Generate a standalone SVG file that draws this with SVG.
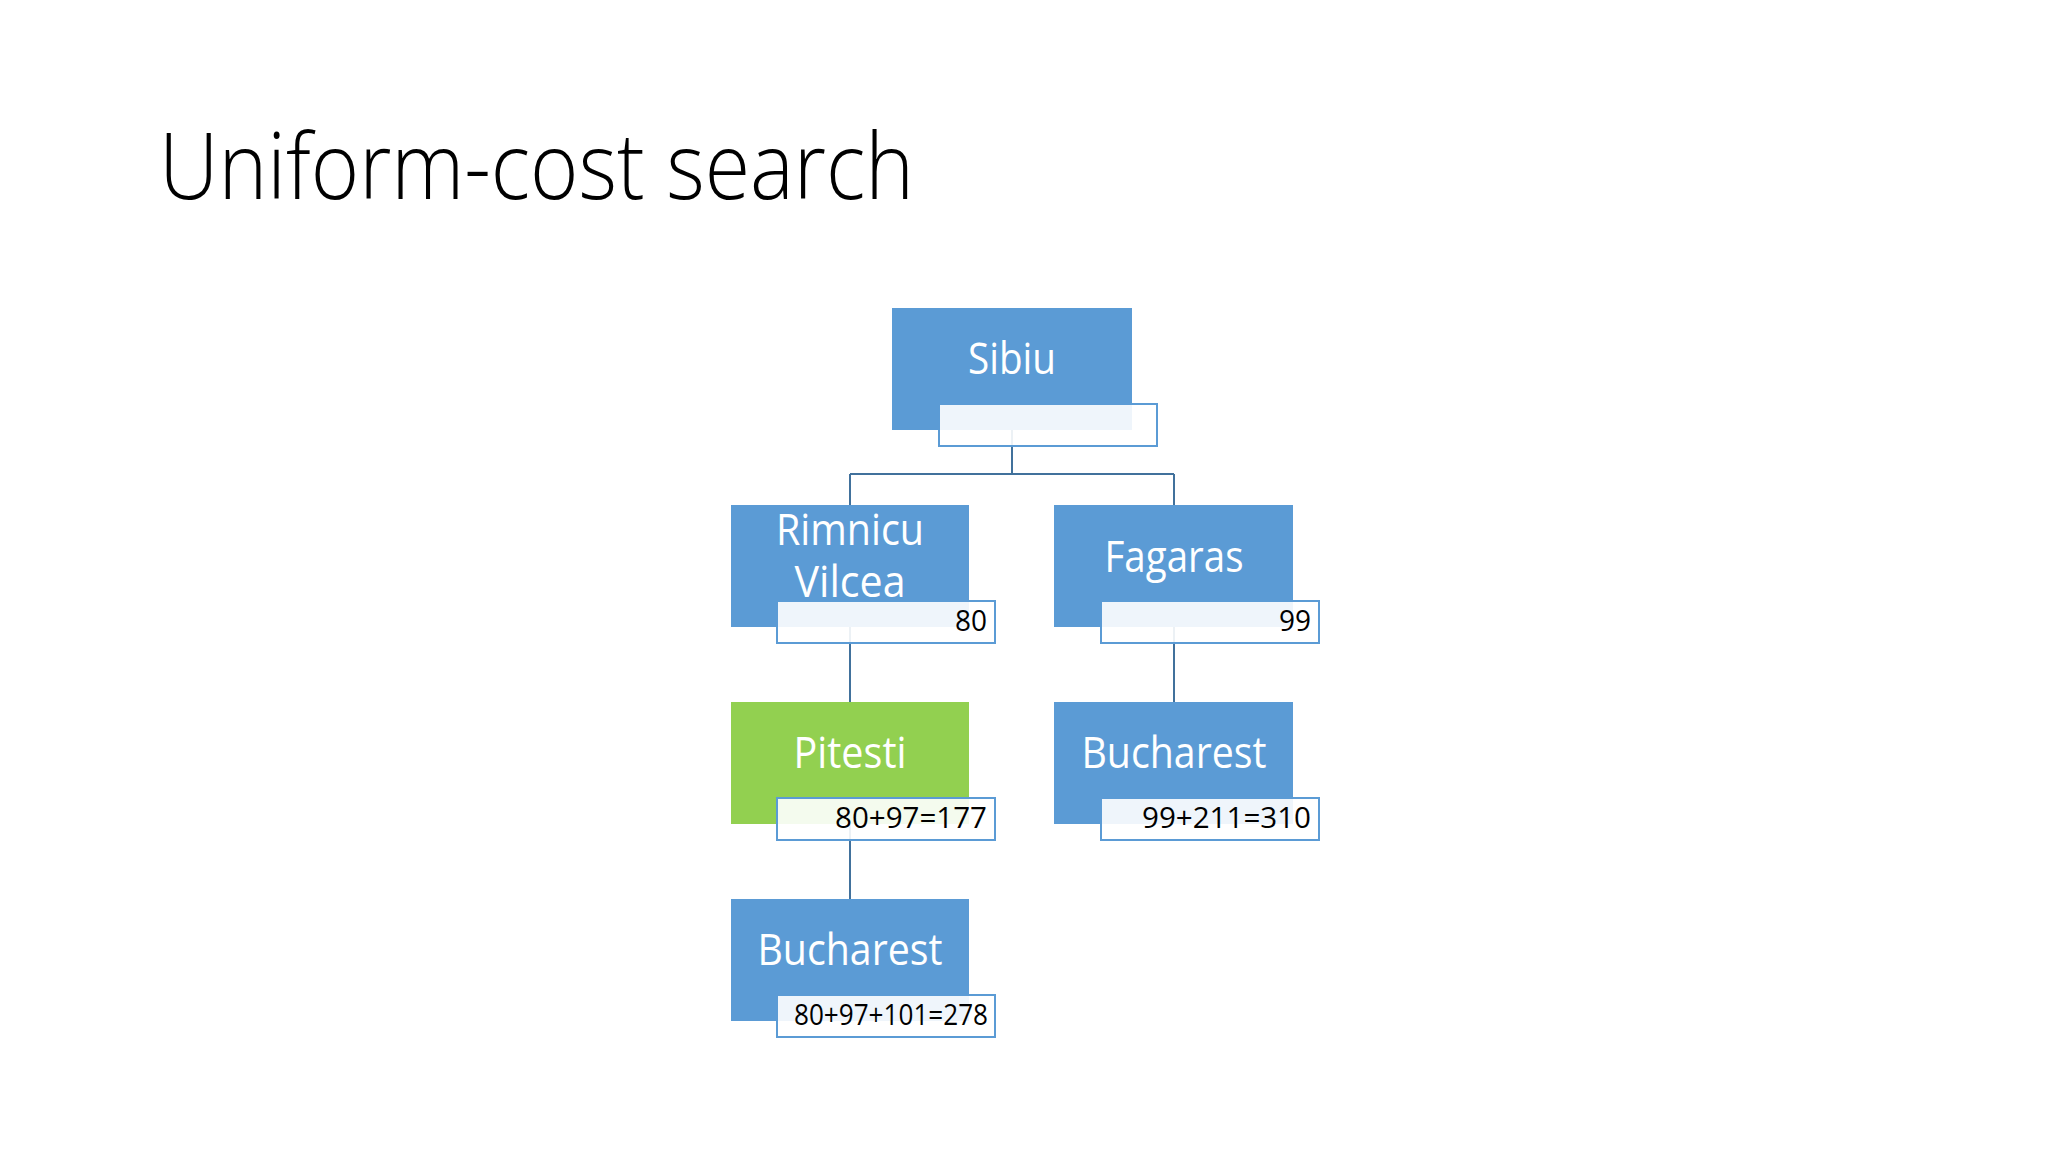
<svg xmlns="http://www.w3.org/2000/svg" width="2048" height="1152" viewBox="0 0 2048 1152">
<style>
.bg{fill:#ffffff}
.box{fill:#5b9bd5}
.goal{fill:#92d050}
.sub{fill:#ffffff;fill-opacity:0.9;stroke:#5b9bd5;stroke-width:2}
.lbl{font-family:"Open Sans","Noto Sans",sans-serif;font-size:44px;fill:#ffffff;text-anchor:middle}
.num{font-family:"Open Sans","Noto Sans",sans-serif;font-size:30px;fill:#000000;text-anchor:end}
.title{font-family:"Open Sans","Noto Sans",sans-serif;font-weight:300;font-size:92px;fill:#000000}
.conn{fill:none;stroke:#41719c;stroke-width:2}
</style>
<rect class="bg" x="0" y="0" width="2048" height="1152"/>
<text class="title" x="159" y="199" textLength="755" lengthAdjust="spacingAndGlyphs">Uniform-cost search</text>
<g id="connectors">
<path class="conn" d="M1012 430 V474 M850 474 H1174 M850 474 V505 M1174 474 V505"/>
<path class="conn" d="M850 627 V702"/>
<path class="conn" d="M1174 627 V702"/>
<path class="conn" d="M850 824 V899"/>
</g>
<g id="sibiu">
<rect class="box" x="892" y="308" width="240" height="122"/>
<rect class="sub" x="939" y="404" width="218" height="42"/>
<text class="lbl" x="1012" y="374" textLength="88" lengthAdjust="spacingAndGlyphs">Sibiu</text>
</g>
<g id="rimnicu-vilcea">
<rect class="box" x="731" y="505" width="238" height="122"/>
<rect class="sub" x="777" y="601" width="218" height="42"/>
<text class="lbl" x="850" y="545" textLength="148" lengthAdjust="spacingAndGlyphs">Rimnicu</text>
<text class="lbl" x="850" y="597" textLength="111" lengthAdjust="spacingAndGlyphs">Vilcea</text>
<text class="num" x="987" y="631" textLength="32" lengthAdjust="spacingAndGlyphs">80</text>
</g>
<g id="fagaras">
<rect class="box" x="1054" y="505" width="239" height="122"/>
<rect class="sub" x="1101" y="601" width="218" height="42"/>
<text class="lbl" x="1174" y="572" textLength="139" lengthAdjust="spacingAndGlyphs">Fagaras</text>
<text class="num" x="1311" y="631" textLength="32" lengthAdjust="spacingAndGlyphs">99</text>
</g>
<g id="pitesti">
<rect class="goal" x="731" y="702" width="238" height="122"/>
<rect class="sub" x="777" y="798" width="218" height="42"/>
<text class="lbl" x="850" y="768" textLength="113" lengthAdjust="spacingAndGlyphs">Pitesti</text>
<text class="num" x="987" y="828" textLength="152" lengthAdjust="spacingAndGlyphs">80+97=177</text>
</g>
<g id="bucharest-right">
<rect class="box" x="1054" y="702" width="239" height="122"/>
<rect class="sub" x="1101" y="798" width="218" height="42"/>
<text class="lbl" x="1174" y="768" textLength="185" lengthAdjust="spacingAndGlyphs">Bucharest</text>
<text class="num" x="1311" y="828" textLength="169" lengthAdjust="spacingAndGlyphs">99+211=310</text>
</g>
<g id="bucharest-left">
<rect class="box" x="731" y="899" width="238" height="122"/>
<rect class="sub" x="777" y="995" width="218" height="42"/>
<text class="lbl" x="850" y="965" textLength="185" lengthAdjust="spacingAndGlyphs">Bucharest</text>
<text class="num" x="988" y="1025" textLength="194" lengthAdjust="spacingAndGlyphs">80+97+101=278</text>
</g>
</svg>
